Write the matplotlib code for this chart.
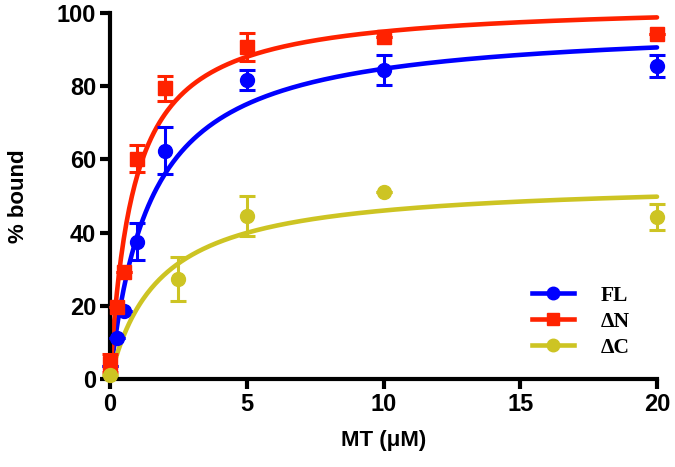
import numpy as np
import matplotlib
matplotlib.use("Agg")
import matplotlib.pyplot as plt
from matplotlib.lines import Line2D

# ---- data ----
fl_x = [0, 0.25, 0.5, 1, 2, 5, 10, 20]
fl_y = [3.6, 11.3, 18.6, 37.5, 62.4, 81.6, 84.4, 85.4]
fl_err = [0, 0, 0, 5.0, 6.5, 2.7, 4.2, 3.0]

dn_x = [0, 0.25, 0.5, 1, 2, 5, 10, 20]
dn_y = [4.4, 19.8, 29.3, 60.2, 79.4, 90.7, 93.4, 94.3]
dn_err = [2.4, 0, 0, 3.6, 3.5, 3.8, 0, 0]

dc_x = [0, 2.5, 5, 10, 20]
dc_y = [1.0, 27.3, 44.5, 51.0, 44.3]
dc_err = [0, 6.0, 5.5, 0, 3.6]

# one-site binding fit parameters (Bmax, Kd)
fl_fit = (97.3, 1.48)
dn_fit = (103.0, 0.85)
dc_fit = (54.3, 1.80)

series_names = ["FL", "ΔN", "ΔC"]
colors = ["#0000FF", "#FF2200", "#CDC423"]
markers = ["o", "s", "o"]

x_ticks = [0, 5, 10, 15, 20]
y_ticks = [0, 20, 40, 60, 80, 100]

# ---- figure ----
fig = plt.figure(figsize=(6.75, 4.67), dpi=100)
ax = fig.add_axes([110/675, 1-379/467, 547/675, 366/467])

xs = np.linspace(0, 20, 400)
datasets = [(fl_x, fl_y, fl_err, fl_fit), (dn_x, dn_y, dn_err, dn_fit), (dc_x, dc_y, dc_err, dc_fit)]
for (x, y, e, (bmax, kd)), c, m in zip(datasets, colors, markers):
    ax.plot(xs, bmax*xs/(kd+xs), color=c, lw=3.3, solid_capstyle='round', zorder=2, clip_on=False)
    ax.errorbar(x, y, yerr=e, fmt=m, color=c, ms=10, elinewidth=2.2, capsize=6,
                capthick=2.2, zorder=3, clip_on=False)

ax.set_xlim(0, 20)
ax.set_ylim(0, 100)
ax.set_xticks(x_ticks)
ax.set_yticks(y_ticks)
for s in ["top", "right"]:
    ax.spines[s].set_visible(False)
for s in ["left", "bottom"]:
    ax.spines[s].set_linewidth(3)
    ax.spines[s].set_capstyle('projecting')
ax.tick_params(width=3, length=7, labelsize=17, pad=3)
for lab in ax.get_xticklabels() + ax.get_yticklabels():
    lab.set_fontfamily("Liberation Sans")
    lab.set_fontweight("bold")

ax.set_xlabel("MT (μM)", fontsize=16, fontfamily="Liberation Sans", fontweight="bold", labelpad=10)
ax.set_ylabel("% bound", fontsize=16, fontfamily="Liberation Sans", fontweight="bold", labelpad=20)

handles = [Line2D([0], [0], color=c, marker=m, ms=9, lw=3.3) for c, m in zip(colors, markers)]
leg = ax.legend(handles, series_names, loc="lower right", bbox_to_anchor=(0.985, 0.005),
                frameon=False, handlelength=1.95, handletextpad=1.2, labelspacing=0.28,
                prop={"family": "Liberation Serif", "weight": "bold", "size": 15.5})

fig.savefig("out.png", dpi=100)
